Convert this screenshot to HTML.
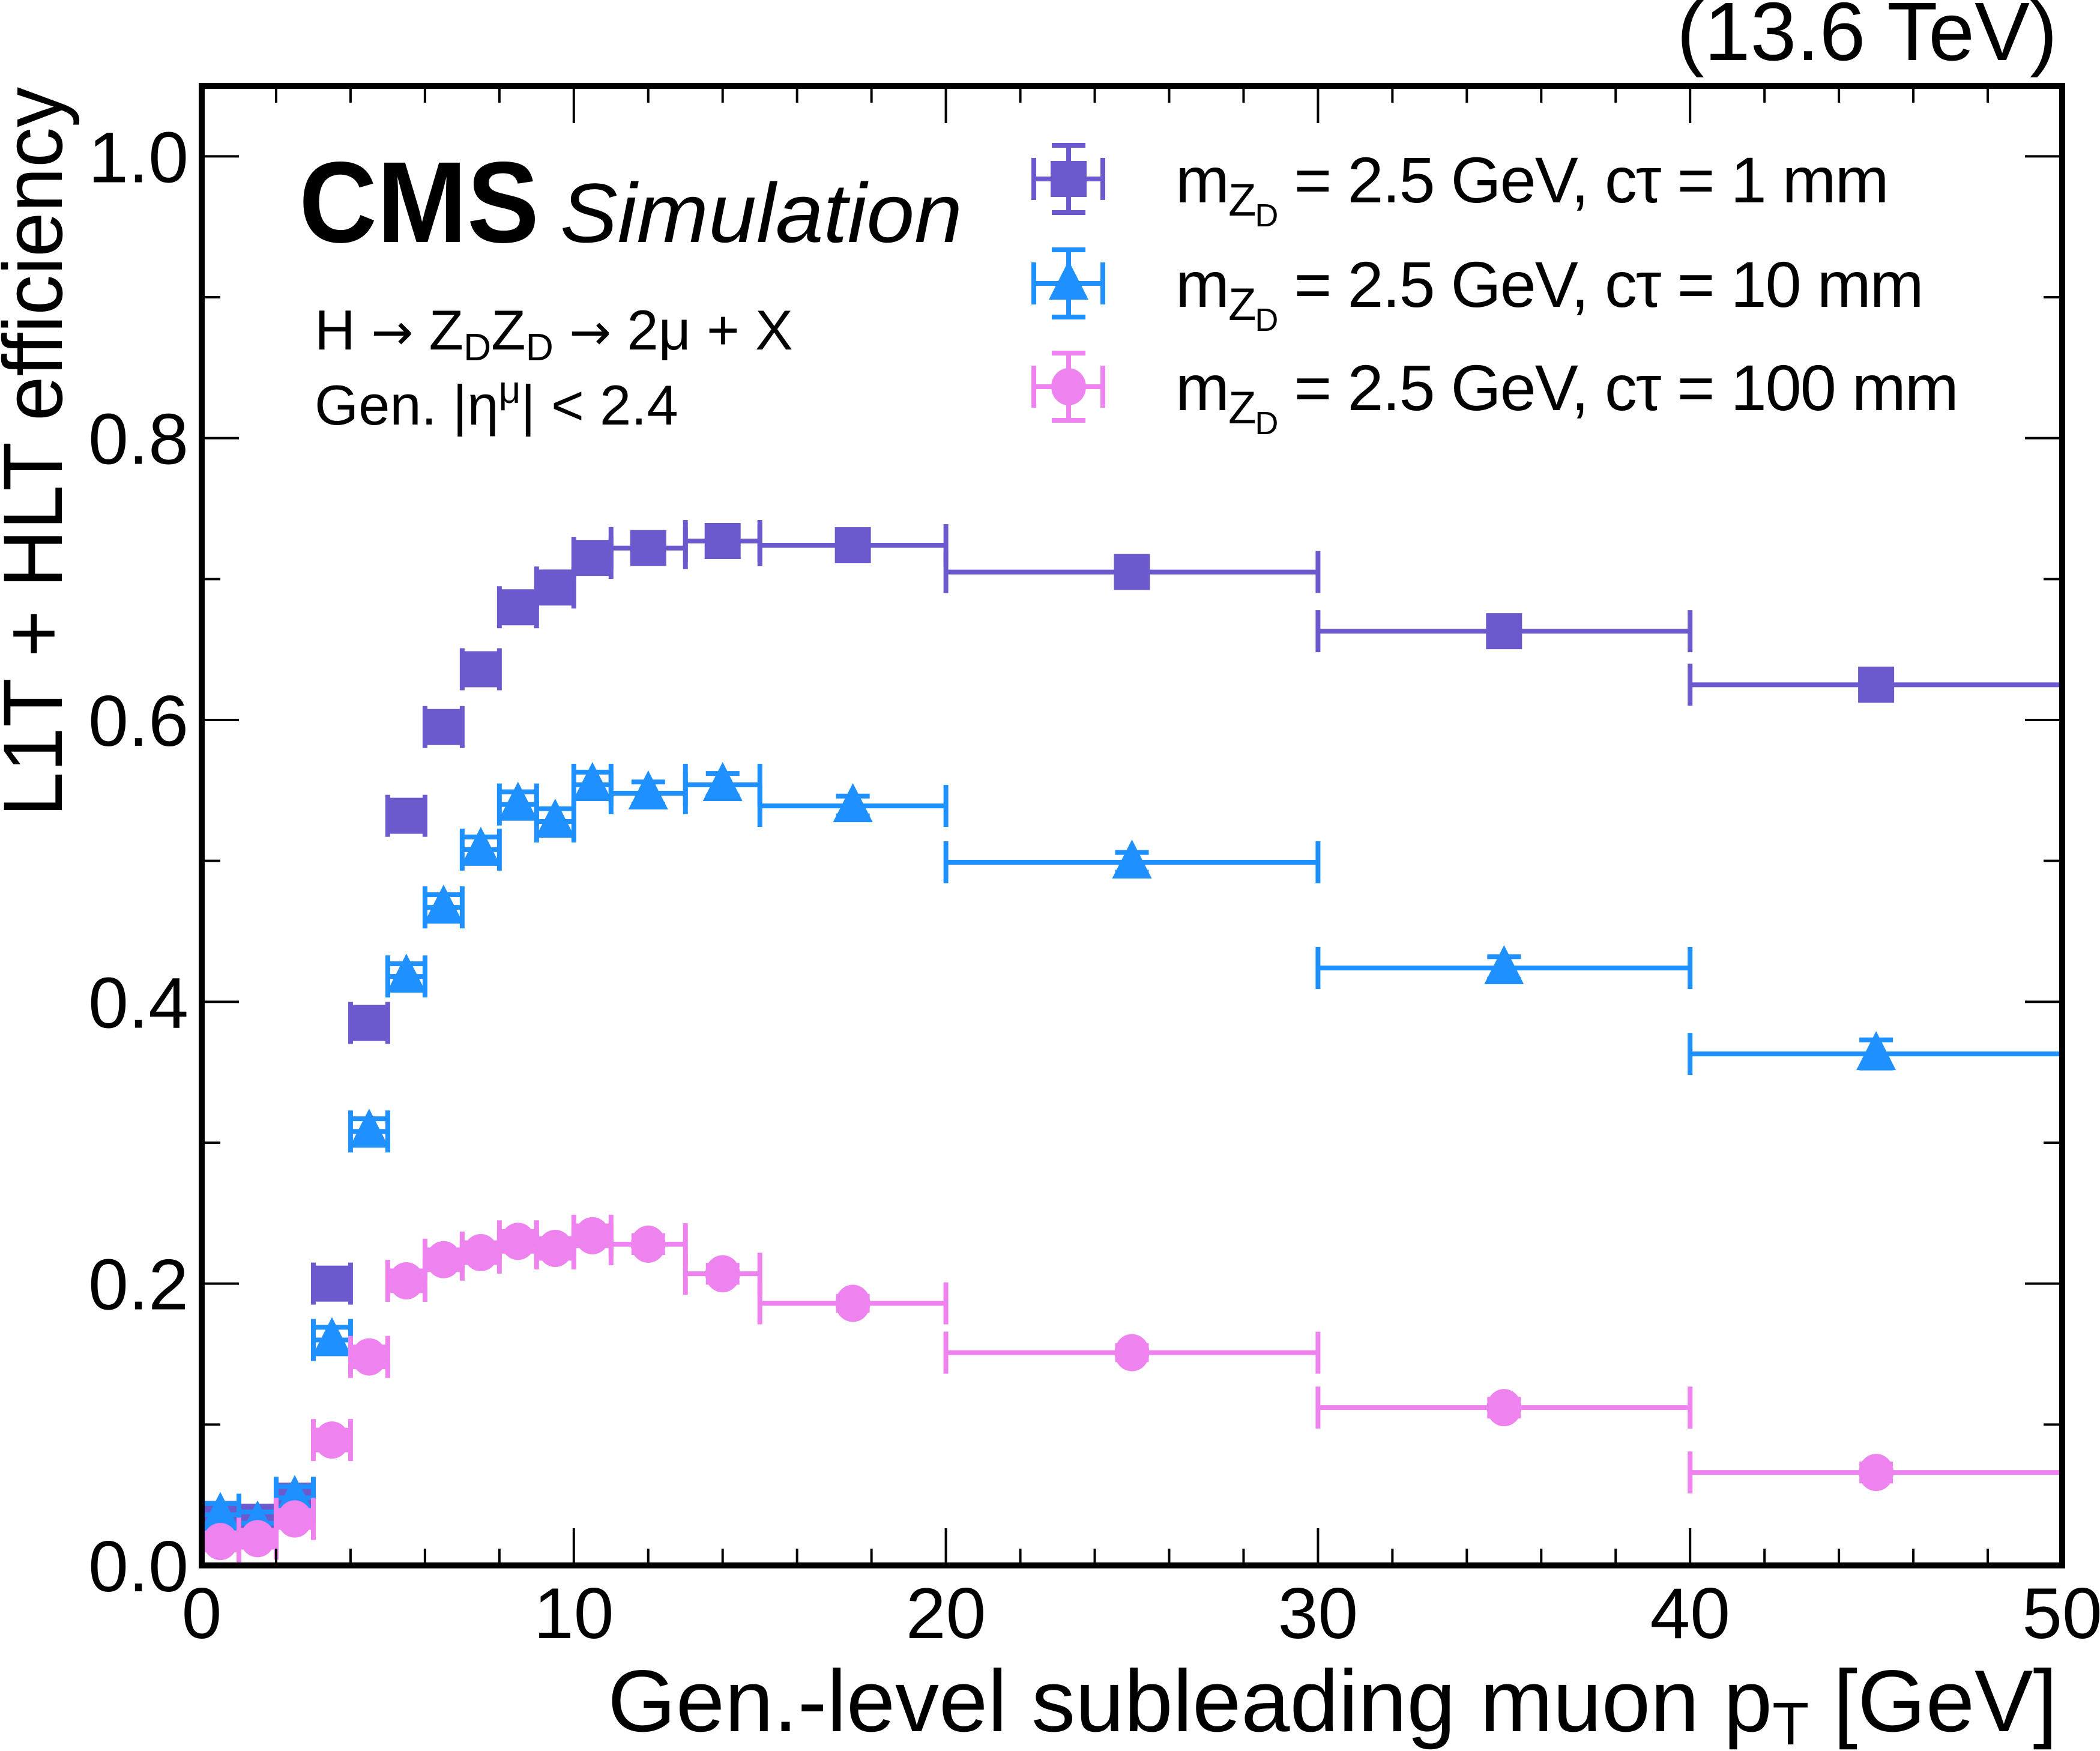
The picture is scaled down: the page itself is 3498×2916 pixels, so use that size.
<!DOCTYPE html>
<html><head><meta charset="utf-8"><style>
html,body{margin:0;padding:0;background:#fff;}
svg{display:block;font-family:"Liberation Sans",Arial,sans-serif;}
</style></head><body>
<svg id="chart" width="3498" height="2916" viewBox="0 0 3498 2916" xmlns="http://www.w3.org/2000/svg">
<g id="marks"></g>
<g id="axes"></g>
<rect x="336" y="143" width="3099" height="2464" fill="none" stroke="#000" stroke-width="10"/>
<text x="3427" y="100" font-size="138" text-anchor="end">(13.6 TeV)</text>
<text x="498" y="403" font-size="192" font-weight="bold" textLength="400" lengthAdjust="spacingAndGlyphs">CMS</text>
<text x="933" y="403" font-size="140" font-style="italic" textLength="670" lengthAdjust="spacingAndGlyphs">Simulation</text>
<text x="524" y="582" font-size="94">H <tspan font-family="DejaVu Sans" font-size="84">→</tspan> Z<tspan font-size="64" dy="18">D</tspan><tspan dy="-18">Z</tspan><tspan font-size="64" dy="18">D</tspan><tspan dy="-18"> </tspan><tspan font-family="DejaVu Sans" font-size="84">→</tspan><tspan> 2μ + X</tspan></text>
<text x="524" y="707" font-size="94">Gen. |η<tspan font-size="64" dy="-36">μ</tspan><tspan dy="36">| &lt; 2.4</tspan></text>
<text font-size="140" text-anchor="end" textLength="1215" lengthAdjust="spacingAndGlyphs" transform="translate(103,145) rotate(-90)">L1T + HLT efficiency</text>
<text x="3427" y="2883" font-size="146" text-anchor="end">Gen.-level subleading muon p<tspan font-size="100" dy="22">T</tspan><tspan dy="-22"> [GeV]</tspan></text>
<g id="legend"></g>
</svg>
<script>
const binLo = [0,1,2,3,4,5,6,7,8,9,10,11,13,15,20,30,40];
const binHi = [1,2,3,4,5,6,7,8,9,10,11,13,15,20,30,40,50];
const eff1mm = [0.033,0.031,0.046,0.200,0.385,0.532,0.595,0.636,0.680,0.694,0.715,0.722,0.727,0.724,0.705,0.663,0.625];
const eff10mm = [0.036,0.030,0.048,0.160,0.308,0.418,0.467,0.508,0.540,0.528,0.554,0.548,0.554,0.539,0.499,0.424,0.363];
const eff100mm = [0.017,0.019,0.033,0.089,0.148,0.202,0.217,0.222,0.230,0.225,0.234,0.228,0.207,0.186,0.151,0.112,0.066];
const err1mm = [0.006,0.006,0.006,0.006,0.006,0.005,0.005,0.005,0.005,0.005,0.005,0.004,0.004,0.004,0.004,0.005,0.006];
const err10mm = [0.008,0.008,0.008,0.009,0.009,0.009,0.009,0.009,0.009,0.009,0.009,0.008,0.008,0.007,0.007,0.008,0.010];
const err100mm = [0.006,0.006,0.006,0.007,0.007,0.007,0.007,0.007,0.007,0.007,0.007,0.006,0.006,0.005,0.005,0.006,0.006];
const xTicks = [0,10,20,30,40,50];
const yTicks = [0.0,0.2,0.4,0.6,0.8,1.0];
const yTickLabels = ["0.0","0.2","0.4","0.6","0.8","1.0"];
const seriesNames = ["m-zd-2p5-ctau-1mm","m-zd-2p5-ctau-10mm","m-zd-2p5-ctau-100mm"];
const legendCtau = ["1 mm","10 mm","100 mm"];

const NS="http://www.w3.org/2000/svg";
const X0=336,X1=3435,Y0=2607,Y1=143,XMAX=50,YMAX=1.05;
function xs(v){return X0+(X1-X0)*v/XMAX;}
function ys(v){return Y0-(Y0-Y1)*v/YMAX;}
function mk(tag,attrs,parent){const e=document.createElementNS(NS,tag);for(const k in attrs)e.setAttribute(k,attrs[k]);parent.appendChild(e);return e;}

const axes=document.getElementById('axes');
for(let v=0;v<=50;v+=2){
  const major=v%10===0;const L=major?62:28;
  const t1=mk('line',{x1:xs(v),x2:xs(v),y1:Y0,y2:Y0-L,stroke:'#000','stroke-width':4},axes);
  
  
  const t2=mk('line',{x1:xs(v),x2:xs(v),y1:Y1,y2:Y1+L,stroke:'#000','stroke-width':4},axes);
  
  
}
xTicks.forEach(v=>{
  const t=mk('text',{x:xs(v),y:2728,'font-size':120,'text-anchor':'middle'},axes);
  t.textContent=v;
  
  
});
for(let i=0;i<=10;i++){
  const v=i/10;const major=i%2===0;const L=major?62:31;
  const t1=mk('line',{x1:X0,x2:X0+L,y1:ys(v),y2:ys(v),stroke:'#000','stroke-width':4},axes);
  
  
  const t2=mk('line',{x1:X1,x2:X1-L,y1:ys(v),y2:ys(v),stroke:'#000','stroke-width':4},axes);
  
  
}
yTicks.forEach((v,i)=>{
  const t=mk('text',{x:314,y:ys(v)+43,'font-size':120,'text-anchor':'end'},axes);
  t.textContent=yTickLabels[i];
  
  
});

const colors=['#6a5acd','#1e90ff','#ee82ee'];
const effs=[eff1mm,eff10mm,eff100mm];
const errs=[err1mm,err10mm,err100mm];
const marks=document.getElementById('marks');

function marker(g,shape,cx,cy,col){
  let m;
  if(shape===0){m=mk('rect',{x:cx-30,y:cy-30,width:60,height:60,fill:col},g);}
  else if(shape===1){m=mk('polygon',{points:`${cx},${cy-38} ${cx-33},${cy+27} ${cx+33},${cy+27}`,fill:col},g);}
  else {m=mk('ellipse',{cx:cx,cy:cy,rx:29,ry:31,fill:col},g);}
  return m;
}
function errbar(g,x0,x1,cx,cy,ylo,yhi,col){
  const sw=8;
  mk('line',{x1:x0,x2:x1,y1:cy,y2:cy,stroke:col,'stroke-width':sw},g);
  mk('line',{x1:x0,x2:x0,y1:cy-35,y2:cy+35,stroke:col,'stroke-width':sw},g);
  mk('line',{x1:x1,x2:x1,y1:cy-35,y2:cy+35,stroke:col,'stroke-width':sw},g);
  mk('line',{x1:cx,x2:cx,y1:ylo,y2:yhi,stroke:col,'stroke-width':sw},g);
  mk('line',{x1:cx-28,x2:cx+28,y1:ylo,y2:ylo,stroke:col,'stroke-width':sw},g);
  mk('line',{x1:cx-28,x2:cx+28,y1:yhi,y2:yhi,stroke:col,'stroke-width':sw},g);
}
effs.forEach((arr,s)=>{
  const g=mk('g',{},marks);
  
  
  arr.forEach((v,i)=>{
    const pg=mk('g',{},g);
    
    
    const cx=xs((binLo[i]+binHi[i])/2),cy=ys(v);
    errbar(pg,xs(binLo[i]),xs(binHi[i]),cx,cy,ys(v-errs[s][i]),ys(v+errs[s][i]),colors[s]);
    marker(pg,s,cx,cy,colors[s]);
  });
});

const legend=document.getElementById('legend');
const rowY=[298,472,644];
legendCtau.forEach((c,s)=>{
  const g=mk('g',{},legend);
  
  
  const cx=1780,cy=rowY[s];
  errbar(g,1722,1837,cx,cy,cy+56,cy-56,colors[s]);
  marker(g,s,cx,cy,colors[s]);
  const t=mk('text',{x:1958,y:cy+39,'font-size':108,'letter-spacing':-2},g);
  t.innerHTML='m<tspan font-size="76" dy="22">Z</tspan><tspan font-size="54" dy="18">D</tspan><tspan dy="-40"> = 2.5 GeV, cτ = '+c+'</tspan>';
});
</script>
</body></html>
